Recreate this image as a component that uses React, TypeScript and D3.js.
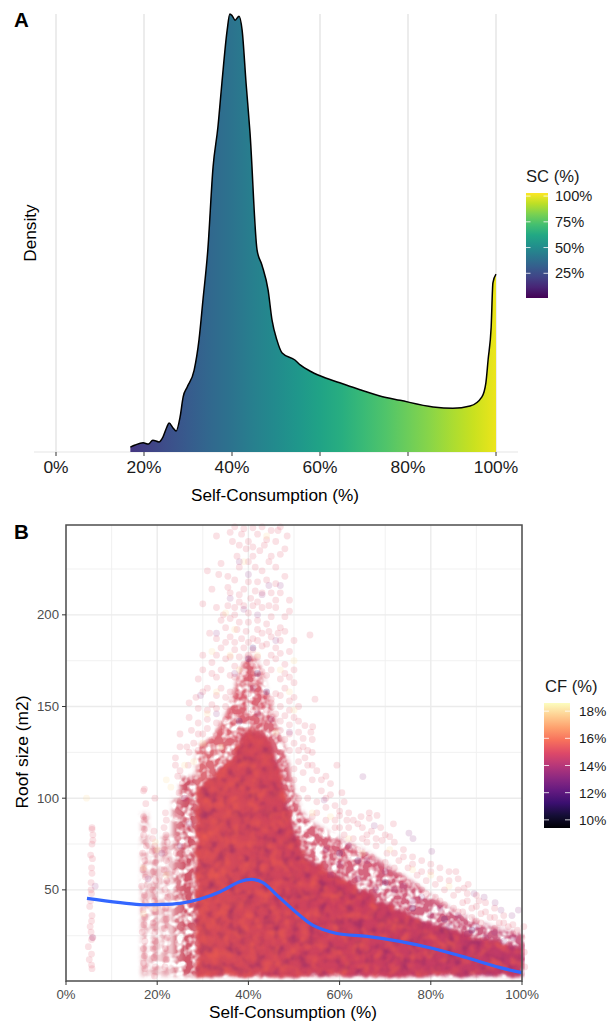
import React from 'react'
import * as d3 from 'd3'

const FONT = '"Liberation Sans", Arial, sans-serif'

// panel A: density curve [SC %, density relative to the peak]
const densityCurve: [number, number][] = [
  [16.9,.011],[18,.016],[19.8,.021],[21,.018],[22,.027],[23.4,.023],[24.3,.034],[25.2,.057],[25.7,.066],[26.6,.055],
  [27.3,.048],[28.2,.08],[28.9,.126],[29.8,.148],[31.4,.187],[32.5,.256],[33.4,.347],[34.5,.461],[35.7,.651],[36.8,.742],
  [37.7,.842],[38.9,.963],[39.5,1],[40.1,.995],[40.7,.986],[41.6,.995],[42.3,.963],[43.2,.842],[44.1,.728],[45.7,.461],
  [46.8,.427],[48.2,.37],[49.1,.301],[50.2,.256],[51.4,.226],[54.3,.21],[55.5,.199],[57.7,.185],[60,.174],[64.5,.158],
  [69.1,.142],[73.6,.128],[78.2,.118],[85.7,.103],[90.2,.1],[94.1,.105],[96.8,.126],[97.7,.158],[98.2,.21],[98.9,.285],
  [99.3,.386],[100,.406],
]
const pctTicks = [0, 20, 40, 60, 80, 100]
const scLegendTicks = [25, 50, 75, 100]
const scLegendRange: [number, number] = [1, 103]

// panel B: smooth trend line [SC %, roof m2]
const trendLine: [number, number][] = [
  [4.6,45.4],[16.2,42],[20,42],[25,42.6],[29.4,45],[33.8,49],[38.2,54.6],[40.8,55.7],[43.2,54],[46.3,47],
  [51.3,36],[54.2,30.6],[59.4,26.2],[66,24.6],[73.2,21.9],[80.5,18],[87.9,13],[95.2,7.6],[100,4.9],
]
const roofTicks = [50, 100, 150, 200]
const roofMinor = [25, 75, 125, 175, 225]
const scMinor = [10, 30, 50, 70, 90]
const cfLegendTicks = [10, 12, 14, 16, 18]
const cfLegendRange: [number, number] = [9.4, 18.6]

// overplotted part of the cloud: how high each saturation level reaches
const cloudSc = [28.5,32,36,38,40,42,44,46,48,50,52,56,60,65,70,75,80,85,90,95,100.4]
const cloudCore = [104,112,122,130,137,137,132,124,104,84,72,63,57,50,42,37,32,28,24,21,19]
const cloudMid = [128,134,152,168,178,175,160,142,128,106,92,84,78,72,64,56,47,39,33,29,26]
// striped columns left of the cloud [from SC, to SC, top roof, strength]
const stripes: [number, number, number, number][] = [
  [16.5,18,92,.5],[18.6,20.2,74,.6],[20.9,22.8,80,.55],[23.4,25,100,.8],[25.1,28.4,112,1],
]

// readable single roofs [SC %, roof m2], grouped by capacity factor
const pointsCf15: [number, number][] = [
  [37,248],[39,247],[41,247.5],[43,248],[45,246],[47,248],[36,245],[38.5,244],[42,244],[46.5,246],[33,243],[40,240],[44,241],[39.5,236],
  [42.5,235],[45,232],[47,233],[48,236],[44.5,229],[40,229],[38,226],[41.5,226],[43,224],[46,226],[31,224],[33.5,222],[35.5,221],[37,219],
  [40,218],[42,218],[44,219],[46,217],[48,221],[36,212],[38,211],[40.5,209],[43,212],[47,212],[49,208],[30,206],[35.5,205],[37,204],
  [39,205],[41,205],[43,204],[44.5,205],[46,204],[49,202],[34,197],[36,198],[38,196],[40,196],[42,197],[44,195],[47,193],[31.5,190],
  [36,188],[38.5,187],[41,187],[43,190],[45,188],[48,191],[50,186],[34,182],[37,181],[39,182],[41,181],[43,183],[46,182],[49,180],
  [32,174],[35,176],[37,172],[39,173],[41,172],[44,174],[46,176],[48,173],[50,170],[30,170],[33,166],[36,167],[38,165],[40,166],[42,164],
  [44,167],[47,165],[49,166],[31,160],[34,160],[36,158],[38,156],[40,157],[42,158],[44,156],[46,157],[48,160],[50,155],[28.5,155],
  [32,151],[35,150],[37,149],[39,150],[41,148],[43,150],[45,152],[47,150],[49,148],[27,144],[29,141],[31,143],[33,141],[35,143],[37,141],
  [39,143],[41,142],[43,141],[45,143],[47,142],[49,140],[51,142],[53.5,189],[54.6,154],[52.4,139.6],[54.1,139],[53.7,136],[52,132.6],[54,132],[52.4,122],
  [59.4,118],[60.5,103],[60,90.5],[61.6,88],[64.7,90],[66.5,92],[68.2,90.6],[66.5,89],[71.8,86],[71,79],[69.3,77],[70.4,70],[85.5,60],[88.2,53],
  [87.3,51],[90.6,44],[25,135],[26.5,128],[24,122],[19.5,100],[28,130],[30,135],[32,132],[34,136],[36,132],[38,134],[48,132],[50,130],[52,128],[54,125],
  [53,118],[55,115],[57,112],[51,120],[54,110],[56,104],[58,102],[52,105],[55,98],[57,95],[59,96],[61,98],[63,88],[62,84],[65,84],[67,82],[69,84],
  [54,90],[57,88],[59,84],[61,80],[63,78],[66,76],[68,74],[72,76],[74,72],[76,68],[78,66],[80,64],[82,62],[84,60],[86,56],[88,48],[90,47],[92,43],
  [94,40],[96,36],[73,66],[75,62],[77,58],[79,55],[81,53],[83,50],[85,47],[87,43],[89,40],[91,37],[93,35],[95,32],[97,30],[99,28],[70,65],[72,62],[67,68],
  [64,72],[62,70],[58,76],[56,82],[74,56],[78,50],[82,44],[86,38],[90,33],[94,29],[98,26],[68,58],[62,64],[60,68],[100,24],[100.5,16],[100.6,8],[100.4,30],
  // second pass over the upper column and the right fringe
  [36.5,240],[38,238],[41,237],[43.5,238],[46,240],[48.5,243],[37.5,232],[41,232],[34,228],[35.5,215],[39,214],[41.5,213],[45,212],[32,214],[38,207],
  [42,207],[46,208],[33,204],[34.5,200],[37,200],[40,201],[45,199],[48,199],[35,193],[37.5,192],[39.5,191],[42,192],[44.5,191],[46.5,190],[33,187],[35,185],
  [37,185],[40,185],[42,186],[44,184],[47,186],[30,178],[33,178],[36,177],[38,177],[40,178],[42,177],[45,178],[47,179],[29,165],[32,168],[34,170],[37,166],
  [39,168],[41,167],[43,169],[45,170],[48,168],[50,163],[30,158],[33,156],[35,155],[37,154],[39,155],[41,153],[43,155],[45,154],[47,156],[49,153],[51,150],[27,152],
  [29,149],[31,148],[33,149],[36,147],[38,146],[40,146],[42,147],[44,148],[46,146],[48,145],[50,144],[27.5,137],[29,135],[31,138],[33,134],[35,137],[47,137],[49,135],
  [51,136],[25,128],[27,125],[29,126],[49,126],[51,126],[53,126],[50,116],[52,114],[54,118],[56,110],[58,108],[50,110],[53,100],[51,100],[55,92],[57,100],[60,93],
  [59,88],[62,92],[64,86],[60,84],[65,78],[66,80],[68,78],[70,80],[72,70],[74,68],[76,64],[78,60],[80,60],[82,56],[84,55],[86,50],[88,44],[90,41],[92,38],[94,35],
  [96,32],[98,31],[56,76],[58,72],[60,74],[63,70],[65,66],[67,63],[69,61],[71,58],[73,58],[75,54],[77,52],[79,48],[81,46],[83,42],[85,40],[87,38],[89,35],[91,32],
  // low columns
  [5.7,84],[5.7,83],[5.9,80],[5.9,77],[5.7,75],[5.4,69],[5.8,67],[5.6,62],[5.7,59],[5.5,54],[5.5,50],[5.6,48],[5.4,44],[5.2,41],[5.7,36],
  [5.6,33],[5.3,30],[5.5,27],[5.9,24],[5.6,23],[4.9,19],[5.6,15],[5.1,12],[5.6,9],[5.7,7],
  [17,104],[17.2,105],[17.5,97],[17,90],[17.1,88],[17.2,83],[17,80],[17.6,74],[16.8,70],[17.3,66],[16.9,61],[17.4,57],[16.6,52],[17.2,47],[17.4,43],
  [16.9,39],[17.3,35],[17.1,31],[16.7,27],[17.3,22],[17,18],[17.2,14],[17,10],[17.3,7],
  [19.3,82],[19,78],[19.5,74],[18.9,71],[19.6,65],[19.2,60],[19.7,55],[19,50],[19.4,44],[19.7,38],[19.1,32],[19.5,27],[19.6,22],[19.1,18],[19.3,13],[19.6,8],[19.4,3],
  [21.8,92],[22,88],[21.5,84],[21.9,80],[22.2,76],[21.6,72],[22,66],[21.5,61],[22.1,55],[21.7,50],[22.3,46],[21.8,40],[22,34],[21.6,29],[22.2,24],[21.8,18],[22,12],[21.7,8],
  [24,118],[24.5,112],[25,115],[25.5,108],[24.8,103],[26,100],[25,95],[24.2,90],[26.3,88],[25.4,84],[24.5,78],[26,74],[24.2,70],[25.5,66],[24,60],[26.4,56],[25,50],
  [26.8,118],[27.2,110],[26.7,104],[27.5,98],[27,92],[26.5,84],[27.4,78],[26.9,70],[27.6,62],[26.8,52],[27.3,42],[26.7,32],[27.4,22],[27,12],
]
const pointsCf18: [number, number][] = [
  [4.5,100],[23,106],[22,110],[20,72],[19.6,76],[17,37],[28,120],[31,146],[33,158],[36,178],[37,192],[35,201],[44,243],[39,229],[32,180],[47,170],
  [49,158],[50,148],[30,130],[34,128],[46,136],[54,92],[58,90],[62,78],[65,70],[71,72],[76,61],[80,58],[84,52],[50,175],[42,178],[38,170],[26,118],[22,58],
  [19.5,40],[17,62],
]
const pointsCf14: [number, number][] = [
  [65.1,111.8],[56.6,99],[67.6,85],[75.2,81],[76.1,78],[80.2,71],[89.5,48],[91.7,46],[94.1,43],[95.4,39],[97.8,36],[99.2,39],[38,229],[40,222],[43,211],[44.5,216],
  [47,216],[33,190],[39,203],[42,200],[46,186],[36,209],[37,168],[41,160],[29.5,156],[45,143],[42,146],[49,136],[33,146],[26,100],[6.4,52],[5.8,24],[27,86],[25,74],
  [21,70],[18,56],[62,74],[66,66],[70,60],[74,52],[78,46],[82,40],[86,36],[90,30],[94,27],[98,24],[57,72],[60,64],[72,50],[76,44],[84,30],[92,24],[64,56],[68,50],
  [58,58],[80,36],[88,26],[96,22],
]
const pointsCf12: [number, number][] = [
  [41,182],[42,168],[40,176],[44,158],[38,142],[60,70],[64,66],[70,54],[76,40],[83,34],[89,28],
]

const xA = d3.scaleLinear().domain([0, 100]).range([56, 496])
const yA = d3.scaleLinear().domain([0, 1]).range([452, 14])
const xB = d3.scaleLinear().domain([0, 100]).range([66, 522])
const yB = d3.scaleLinear().domain([0.3, 249]).range([981, 525])

const scColour = (v: number) => d3.interpolateViridis((v - scLegendRange[0]) / (scLegendRange[1] - scLegendRange[0]))
const cfColour = (v: number) => d3.interpolateMagma((v - cfLegendRange[0]) / (cfLegendRange[1] - cfLegendRange[0]))

function Gradient({ id, vertical, stops }: { id: string; vertical?: boolean; stops: string[] }) {
  return (
    <linearGradient id={id} x1="0" y1={vertical ? '1' : '0'} x2={vertical ? '0' : '1'} y2="0">
      {stops.map((c, i) => <stop key={i} offset={i / (stops.length - 1)} stopColor={c} />)}
    </linearGradient>
  )
}

function Dots({ data, cf, opacity }: { data: [number, number][]; cf: number; opacity: number }) {
  return (
    <g fill={cfColour(cf)} fillOpacity={opacity}>
      {data.map((d, i) => <circle key={i} cx={xB(d[0])} cy={yB(d[1])} r={3.4} />)}
    </g>
  )
}

export default function App() {
  const areaA = d3.area<[number, number]>().x(d => xA(d[0])).y0(yA(0)).y1(d => yA(d[1])).curve(d3.curveMonotoneX)
  const lineA = d3.line<[number, number]>().x(d => xA(d[0])).y(d => yA(d[1])).curve(d3.curveMonotoneX)
  const lineB = d3.line<[number, number]>().x(d => xB(d[0])).y(d => yB(d[1])).curve(d3.curveCatmullRom)
  const cloud = (tops: number[]) =>
    d3.area<number>().x(d => xB(d)).y0(yB(3)).y1((_, i) => yB(tops[i])).curve(d3.curveMonotoneX)(cloudSc) as string

  const gradA = d3.range(0, 101, 5)
  const gradSc = d3.range(0, 1.001, 0.1).map(t => d3.interpolateViridis(t))
  const gradCf = d3.range(0, 1.001, 0.1).map(t => d3.interpolateMagma(t))
  const scLegendY = d3.scaleLinear().domain(scLegendRange).range([298, 193])
  const cfLegendY = d3.scaleLinear().domain(cfLegendRange).range([828, 703])

  return (
    <svg width={607} height={1023} style={{ position: 'absolute', left: 0, top: 0, fontFamily: FONT }}>
      <defs>
        <linearGradient id="gradA" gradientUnits="userSpaceOnUse" x1={xA(0)} x2={xA(100)} y1={0} y2={0}>
          {gradA.map(v => <stop key={v} offset={v / 100} stopColor={scColour(v)} />)}
        </linearGradient>
        <Gradient id="gradSc" vertical stops={gradSc} />
        <Gradient id="gradCf" vertical stops={gradCf} />
        <linearGradient id="coreFill" gradientUnits="userSpaceOnUse" x1={xB(28)} x2={xB(100)} y1={0} y2={0}>
          <stop offset="0" stopColor="#d64c58" />
          <stop offset="0.45" stopColor="#cc405e" />
          <stop offset="1" stopColor="#bf3a68" />
        </linearGradient>
        {/* dot-sized speckle, stands in for the overplotted points */}
        <filter id="speckle" filterUnits="userSpaceOnUse" x={60} y={520} width={470} height={470} colorInterpolationFilters="sRGB">
          <feTurbulence type="fractalNoise" baseFrequency="0.13" numOctaves="2" seed="4" result="n" />
          <feColorMatrix in="n" type="matrix" values="0 0 0 0 0  0 0 0 0 0  0 0 0 0 0  3.4 0 0 0 -1.0" result="mask" />
          <feGaussianBlur in="SourceGraphic" stdDeviation="2" result="src" />
          <feComposite in="src" in2="mask" operator="in" />
        </filter>
        <filter id="mottle" filterUnits="userSpaceOnUse" x={60} y={520} width={470} height={470} colorInterpolationFilters="sRGB">
          <feTurbulence type="fractalNoise" baseFrequency="0.11" numOctaves="2" seed="9" result="n" />
          <feDisplacementMap in="SourceGraphic" in2="n" scale="10" xChannelSelector="R" yChannelSelector="G" result="rough" />
          <feGaussianBlur in="rough" stdDeviation="1.5" result="base" />
          <feColorMatrix in="n" type="matrix" values="0 0 0 0 0.5  0 0 0 0 0.13  0 0 0 0 0.42  1.5 0 0 0 -0.72" result="darkN" />
          <feGaussianBlur in="darkN" stdDeviation="0.8" result="darkS" />
          <feComposite in="darkS" in2="base" operator="in" result="dark" />
          <feTurbulence type="fractalNoise" baseFrequency="0.1" numOctaves="2" seed="21" result="n2" />
          <feColorMatrix in="n2" type="matrix" values="0 0 0 0 0.93  0 0 0 0 0.36  0 0 0 0 0.3  0 1.8 0 0 -0.8" result="lightN" />
          <feGaussianBlur in="lightN" stdDeviation="0.8" result="lightS" />
          <feComposite in="lightS" in2="base" operator="in" result="light" />
          <feMerge>
            <feMergeNode in="base" />
            <feMergeNode in="dark" />
            <feMergeNode in="light" />
          </feMerge>
        </filter>
        <clipPath id="panelB"><rect x={66} y={525} width={459} height={456} /></clipPath>
      </defs>

      {/* panel A */}
      <line x1={34} x2={518} y1={yA(0)} y2={yA(0)} stroke="#e6e6e6" strokeWidth={1.2} />
      {pctTicks.map(t => (
        <g key={t}>
          <line x1={xA(t)} x2={xA(t)} y1={14} y2={452} stroke="#e4e4e4" strokeWidth={1.4} />
          <line x1={xA(t)} x2={xA(t)} y1={452} y2={456} stroke="#333" strokeWidth={1} />
          <text x={xA(t)} y={473} textAnchor="middle" fontSize={17.4} fill="#1a1a1a">{t}%</text>
        </g>
      ))}
      <path d={areaA(densityCurve) as string} fill="url(#gradA)" />
      <path d={lineA(densityCurve) as string} fill="none" stroke="#000" strokeWidth={1.5} />
      <text transform="translate(36,233) rotate(-90)" textAnchor="middle" fontSize={17.2} fill="#000">Density</text>
      <text x={275} y={501} textAnchor="middle" fontSize={17.2} fill="#000">Self-Consumption (%)</text>
      <text x={14} y={27} fontSize={20.5} fontWeight="bold" fill="#000">A</text>

      <text x={526} y={182} fontSize={16.6} fill="#1a1a1a">SC (%)</text>
      <rect x={526} y={193} width={22} height={105} fill="url(#gradSc)" />
      {scLegendTicks.map(t => (
        <g key={t}>
          <line x1={526} x2={530.5} y1={scLegendY(t)} y2={scLegendY(t)} stroke="#fff" strokeOpacity={0.8} />
          <line x1={543.5} x2={548} y1={scLegendY(t)} y2={scLegendY(t)} stroke="#fff" strokeOpacity={0.8} />
          <text x={555} y={scLegendY(t) + 5} fontSize={14.6} fill="#1a1a1a">{t}%</text>
        </g>
      ))}

      {/* panel B */}
      {roofMinor.map(t => <line key={t} x1={66} x2={522} y1={yB(t)} y2={yB(t)} stroke="#efefef" strokeWidth={0.9} />)}
      {scMinor.map(t => <line key={t} x1={xB(t)} x2={xB(t)} y1={525} y2={981} stroke="#efefef" strokeWidth={0.9} />)}
      {roofTicks.map(t => <line key={t} x1={66} x2={522} y1={yB(t)} y2={yB(t)} stroke="#ebebeb" strokeWidth={1.4} />)}
      {pctTicks.map(t => <line key={t} x1={xB(t)} x2={xB(t)} y1={525} y2={981} stroke="#ebebeb" strokeWidth={1.4} />)}

      <g clipPath="url(#panelB)">
        <g filter="url(#speckle)">
          {stripes.map((s, i) => (
            <rect key={i} x={xB(s[0])} width={xB(s[1]) - xB(s[0])} y={yB(s[2])} height={yB(3) - yB(s[2])}
              fill="#cf5a6c" fillOpacity={s[3]} />
          ))}
          <path d={cloud(cloudMid)} fill="url(#coreFill)" fillOpacity={0.8} />
        </g>
        <path d={cloud(cloudCore)} fill="url(#coreFill)" filter="url(#mottle)" />
      </g>

      <Dots data={pointsCf15} cf={15} opacity={0.17} />
      <Dots data={pointsCf18} cf={17.9} opacity={0.2} />
      <Dots data={pointsCf14} cf={13.2} opacity={0.16} />
      <Dots data={pointsCf12} cf={11.5} opacity={0.2} />

      <path d={lineB(trendLine) as string} fill="none" stroke="#3366FF" strokeWidth={3.2} />
      <rect x={66} y={525} width={456} height={456} fill="none" stroke="#4d4d4d" strokeWidth={1.5} />

      {roofTicks.map(t => (
        <g key={t}>
          <line x1={62} x2={66} y1={yB(t)} y2={yB(t)} stroke="#333" strokeWidth={1} />
          <text x={59} y={yB(t) + 4.5} textAnchor="end" fontSize={13.2} fill="#4d4d4d">{t}</text>
        </g>
      ))}
      {pctTicks.map(t => (
        <g key={t}>
          <line x1={xB(t)} x2={xB(t)} y1={981} y2={985} stroke="#333" strokeWidth={1} />
          <text x={xB(t)} y={999} textAnchor="middle" fontSize={13.2} fill="#4d4d4d">{t}%</text>
        </g>
      ))}
      <text transform="translate(28,752) rotate(-90)" textAnchor="middle" fontSize={17.4} fill="#000">Roof size (m2)</text>
      <text x={293} y={1018} textAnchor="middle" fontSize={17.2} fill="#000">Self-Consumption (%)</text>
      <text x={14} y={539} fontSize={20.5} fontWeight="bold" fill="#000">B</text>

      <text x={545} y={692} fontSize={16.6} fill="#1a1a1a">CF (%)</text>
      <rect x={544} y={703} width={26} height={125} fill="url(#gradCf)" />
      {cfLegendTicks.map(t => (
        <g key={t}>
          <line x1={544} x2={549} y1={cfLegendY(t)} y2={cfLegendY(t)} stroke="#fff" strokeOpacity={0.8} />
          <line x1={565} x2={570} y1={cfLegendY(t)} y2={cfLegendY(t)} stroke="#fff" strokeOpacity={0.8} />
          <text x={579} y={cfLegendY(t) + 5} fontSize={13.6} fill="#1a1a1a">{t}%</text>
        </g>
      ))}
    </svg>
  )
}
